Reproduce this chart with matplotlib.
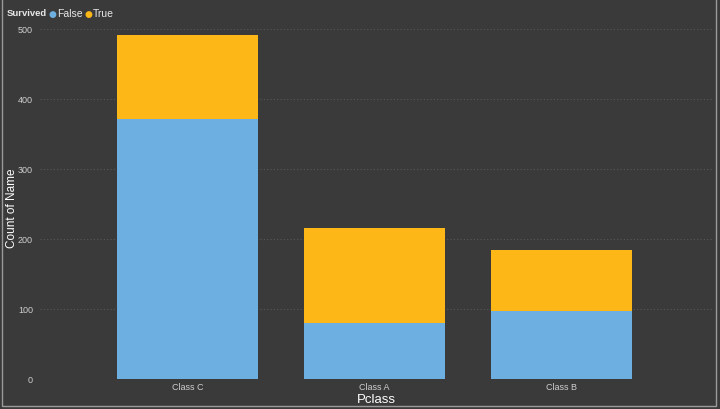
import numpy as np
import matplotlib
matplotlib.use("Agg")
import matplotlib.pyplot as plt
from matplotlib.patches import Rectangle

plt.rcParams['font.family'] = ['Liberation Sans', 'DejaVu Sans']

classes = ["Class C", "Class A", "Class B"]
died = [372, 80, 97]
survived = [119, 136, 87]
yticks = [0, 100, 200, 300, 400, 500]

bg = "#3a3a3a"
blue = "#6cafe0"
yellow = "#fdb717"

fig = plt.figure(figsize=(7.2, 4.1), dpi=100, facecolor=bg)
ax = fig.add_axes([40/720, 30/410, 672/720, 350/410], facecolor=bg)

x = np.arange(len(classes))
ax.bar(x, died, width=0.754, color=blue, zorder=3)
ax.bar(x, survived, width=0.754, bottom=died, color=yellow, zorder=3)

ax.set_xlim(-0.789, 2.805)
ax.set_ylim(0, 500)
ax.set_yticks(yticks)
ax.set_xticks(x)
ax.set_xticklabels(classes)
ax.tick_params(axis="both", length=0, colors="#cfcfcf", labelsize=6.5)
ax.tick_params(axis="y", pad=5)
ax.tick_params(axis="x", pad=2.5)
ax.grid(axis="y", color="#585858", linestyle=(0, (1, 2)), linewidth=0.8, zorder=0)
for s in ax.spines.values():
    s.set_visible(False)

ax.set_xlabel("Pclass", color="white", fontsize=9.5)
ax.xaxis.set_label_coords(0.5, -0.041)
ax.set_ylabel("Count of Name", color="white", fontsize=8.5)
ax.yaxis.set_label_coords(-0.033, 0.49)

# legend across the top
ly = 1 - 14/410
fig.text(7/720, ly, "Survived", color="#e8e8e8", fontsize=6.8, fontweight="bold", va="center")
fig.text(52/720, ly, "\u25cf", color=blue, fontsize=6.5, va="center", ha="center",
         family="DejaVu Sans")
fig.text(57/720, ly, "False", color="#e8e8e8", fontsize=7.5, va="center")
fig.text(88/720, ly, "\u25cf", color=yellow, fontsize=6.5, va="center", ha="center",
         family="DejaVu Sans")
fig.text(93/720, ly, "True", color="#e8e8e8", fontsize=7.5, va="center")

# visual frame
fig.patches.append(Rectangle((2/720, 3/410), 714/720, 410/410, transform=fig.transFigure,
                             fill=False, edgecolor="#9a9a9a", linewidth=1))

fig.savefig("out.png", dpi=100, facecolor=bg)
